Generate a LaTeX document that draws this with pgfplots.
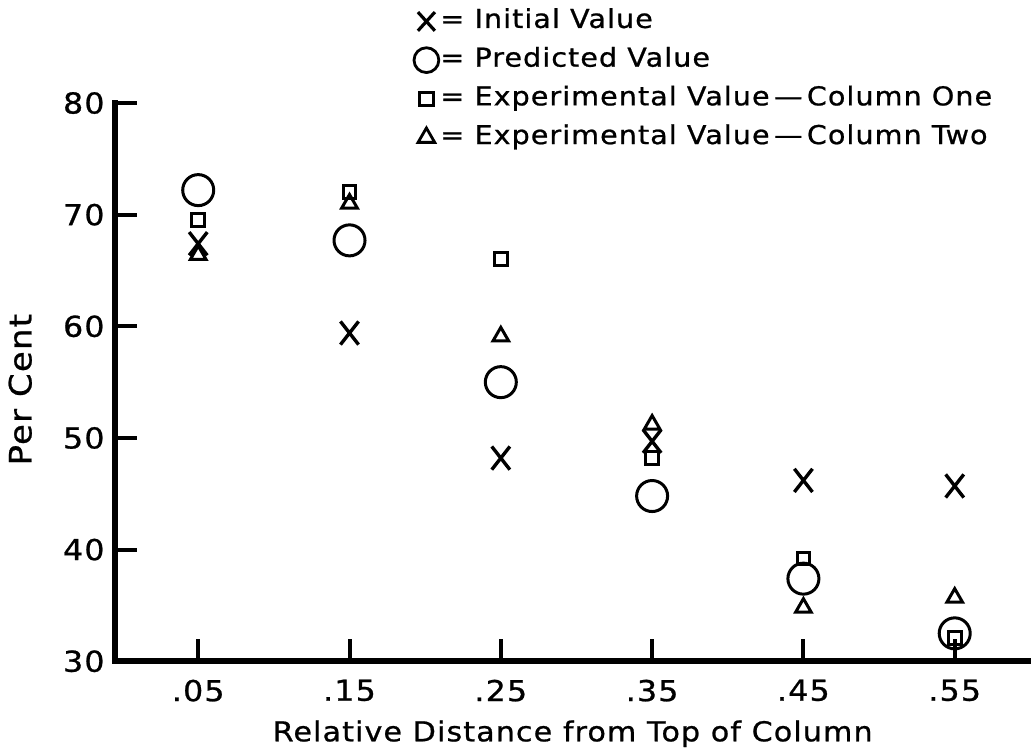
\documentclass[border=0pt]{standalone}
\usepackage{pgfplots}
\pgfplotsset{compat=1.18}
\usepackage{fontspec}
\setmainfont{DejaVu Sans}[FakeStretch=1.1, LetterSpace=4, FakeBold=0.8]
\begin{document}
\begin{tikzpicture}
\begin{axis}[
  scale only axis, width=457.5pt, height=279pt,
  xmin=-0.005, xmax=0.6, ymin=30, ymax=80,
  axis x line=bottom, axis y line=left,
  axis line style={-, line width=3pt, line cap=rect},
  xtick={0.05,0.15,0.25,0.35,0.45,0.55},
  xticklabels={.05,.15,.25,.35,.45,.55},
  ytick={30,40,50,60,70,80},
  tick align=inside,
  major tick length=11pt,
  tick style={line width=2pt, black},
  tick label style={font=\fontsize{14.4}{17}\selectfont},
  xticklabel style={yshift=-5.7pt},
  yticklabel style={xshift=-1.7pt},
  /pgf/number format/assume math mode=true,
  xlabel={Relative Distance from Top of Column},
  ylabel={Per Cent},
  xlabel style={font=\fontsize{13.7}{16}\selectfont, at={(rel axis cs:0.5,-0.1434)}, anchor=base},
  ylabel style={font=\fontsize{15.4}{18}\selectfont, at={(rel axis cs:-0.0913,0.4865)}, anchor=base, rotate=0},
  clip=false,
  legend image code/.code={%
    \pgfpathrectangle{\pgfpoint{0pt}{-6.5pt}}{\pgfpoint{14pt}{13pt}}\pgfusepath{discard}%
    \draw[#1] plot coordinates {(7pt,0pt)};},
  legend style={draw=none, fill=none, at={(axis cs:0.1913,88.51)}, anchor=north west,
    font=\fontsize{13}{15}\selectfont, row sep=6.35pt, inner sep=0pt,
    nodes={inner sep=0pt, text height=9.5pt, text depth=3pt}},
  legend cell align=left,
]
\addplot[only marks, mark=x, mark size=6.4pt, line width=1.7pt, black, mark options={yscale=1.28}, forget plot]
  coordinates {(0.05,67.4) (0.15,59.4) (0.25,48.2) (0.35,49.7) (0.45,46.2) (0.55,45.7)};
\addplot[only marks, mark=o, mark size=7.75pt, line width=1.5pt, black, forget plot]
  coordinates {(0.05,72.2) (0.15,67.7) (0.25,55.0) (0.35,44.8) (0.45,37.4) (0.55,32.5)};
\addplot[only marks, mark=square, mark size=3.2pt, line width=1.5pt, black, forget plot]
  coordinates {(0.05,69.5) (0.15,72.0) (0.25,66.0) (0.35,48.2) (0.45,39.2) (0.55,32.1)};
\addplot[only marks, mark=triangle, mark size=4.5pt, line width=1.5pt, black, forget plot]
  coordinates {(0.05,66.4) (0.15,71.0) (0.25,59.1) (0.35,51.2) (0.45,34.8) (0.55,35.7)};
\addlegendimage{mark=x, mark size=6pt, line width=1.6pt, black, mark options={yscale=1.1}}
\addlegendentry{= Initial Value}
\addlegendimage{mark=o, mark size=6.2pt, line width=1.4pt, black}
\addlegendentry{= Predicted Value}
\addlegendimage{mark=square, mark size=3.4pt, line width=1.5pt, black}
\addlegendentry{= Experimental Value\,—\,Column One}
\addlegendimage{mark=triangle, mark size=4.8pt, line width=1.4pt, black}
\addlegendentry{= Experimental Value\,—\,Column Two}
\coordinate (bbl) at (axis cs:-0.08101,22.115);
\coordinate (btr) at (axis cs:0.60042,89.229);
\end{axis}
\pgfresetboundingbox
\path[use as bounding box] (bbl) rectangle (btr);
\end{tikzpicture}
\end{document}
